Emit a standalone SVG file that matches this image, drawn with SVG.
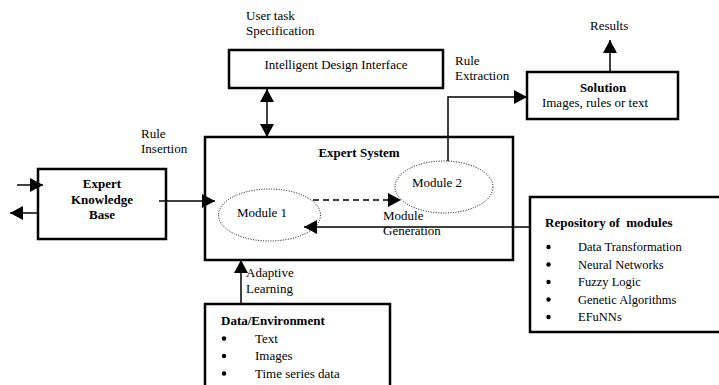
<svg xmlns="http://www.w3.org/2000/svg" width="719" height="385" viewBox="0 0 719 385">
<defs>
<style>
text{font-family:"Liberation Serif","Times New Roman",serif;font-size:13px;fill:#000}
.b{font-weight:bold}
.c{text-anchor:middle}
.r{font-size:12.5px}
.box{fill:#fff;stroke:#000;stroke-width:2.5}
.ell{fill:none;stroke:#000;stroke-width:1;stroke-dasharray:1 1.5}
.ln{fill:none;stroke:#000;stroke-width:1.5}
.dot{fill:#000}
</style>
<marker id="ah" viewBox="0 0 13 14" refX="13" refY="7" markerWidth="13" markerHeight="14" markerUnits="userSpaceOnUse" orient="auto-start-reverse">
<path d="M0,0 L13,7 L0,14 z" fill="#000"/>
</marker>
</defs>
<rect width="719" height="385" fill="#fff"/>

<g id="idi">
<rect class="box" x="229" y="50" width="214" height="38"/>
<text class="c" x="336" y="69">Intelligent Design Interface</text>
</g>
<g id="es">
<rect class="box" x="205" y="137" width="308" height="123"/>
<text class="b c" x="359" y="157">Expert System</text>
</g>
<g id="m1">
<ellipse class="ell" cx="269.5" cy="215" rx="51" ry="26"/>
<text class="c" x="262" y="217">Module 1</text>
</g>
<g id="m2">
<ellipse class="ell" cx="444" cy="187" rx="49" ry="26"/>
<text class="c" x="437" y="187">Module 2</text>
</g>
<g id="ekb">
<rect class="box" x="38" y="169" width="128" height="70"/>
<text class="b c" x="102" y="188">Expert</text>
<text class="b c" x="102" y="204">Knowledge</text>
<text class="b c" x="102" y="219">Base</text>
</g>
<g id="sol">
<rect class="box" x="527" y="72" width="151" height="47"/>
<text class="b c" x="603" y="92">Solution</text>
<text class="c" x="595" y="107">Images, rules or text</text>
</g>
<g id="repo">
<rect class="box" x="530" y="197" width="200" height="135"/>
<text class="b" x="545" y="227" font-size="12" style="white-space:pre">Repository of  modules</text>
<circle class="dot" cx="548.5" cy="247" r="2.2"/><text class="r" x="578" y="251">Data Transformation</text>
<circle class="dot" cx="548.5" cy="264.5" r="2.2"/><text class="r" x="578" y="268.5">Neural Networks</text>
<circle class="dot" cx="548.5" cy="282" r="2.2"/><text class="r" x="578" y="286">Fuzzy Logic</text>
<circle class="dot" cx="548.5" cy="299.5" r="2.2"/><text class="r" x="578" y="303.5">Genetic Algorithms</text>
<circle class="dot" cx="548.5" cy="317" r="2.2"/><text class="r" x="578" y="321">EFuNNs</text>
</g>
<g id="data">
<rect class="box" x="205" y="304" width="185" height="100"/>
<text class="b" x="221" y="325">Data/Environment</text>
<circle class="dot" cx="224" cy="338.5" r="2.2"/><text x="255" y="342.5">Text</text>
<circle class="dot" cx="224" cy="356" r="2.2"/><text x="255" y="360">Images</text>
<circle class="dot" cx="224" cy="373.5" r="2.2"/><text x="255" y="377.5">Time series data</text>
</g>

<g id="labels">
<text x="246" y="20">User task</text>
<text x="246" y="35">Specification</text>
<text x="590" y="30">Results</text>
<text x="455" y="65">Rule</text>
<text x="455" y="80">Extraction</text>
<text x="141" y="138">Rule</text>
<text x="141" y="153">Insertion</text>
<text x="383" y="220">Module</text>
<text x="383" y="235">Generation</text>
<text x="246" y="277">Adaptive</text>
<text x="246" y="293">Learning</text>
</g>

<g id="connectors">
<line class="ln" x1="267" y1="89" x2="267" y2="137" marker-start="url(#ah)" marker-end="url(#ah)"/>
<line class="ln" x1="17" y1="185" x2="43" y2="185" marker-end="url(#ah)"/>
<line class="ln" x1="38" y1="213" x2="10" y2="213" marker-end="url(#ah)"/>
<line class="ln" x1="159" y1="201" x2="215" y2="201" marker-end="url(#ah)"/>
<line class="ln" x1="313" y1="200" x2="401" y2="200" stroke-dasharray="6 4" marker-end="url(#ah)"/>
<line class="ln" x1="531" y1="227" x2="304" y2="227" marker-end="url(#ah)"/>
<polyline class="ln" points="448,161 448,97 527,97" marker-end="url(#ah)"/>
<line class="ln" x1="610" y1="72" x2="610" y2="40" marker-end="url(#ah)"/>
<line class="ln" x1="241" y1="304" x2="241" y2="260" marker-end="url(#ah)"/>
</g>
</svg>
